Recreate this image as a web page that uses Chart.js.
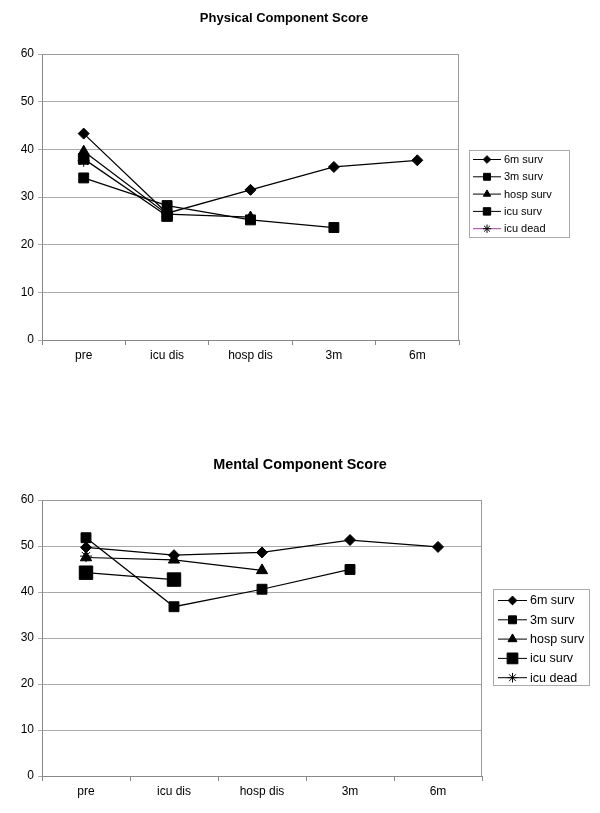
<!DOCTYPE html>
<html>
<head>
<meta charset="utf-8">
<script src="https://cdn.jsdelivr.net/npm/chart.js@4.4.0/dist/chart.umd.min.js"></script>
<style>
  body { margin: 0; background: #fff; font-family: "Liberation Sans", Arial, sans-serif; }
  .wrap { position: absolute; left: 0; width: 600px; }
  .title { position: absolute; font-weight: bold; color: #000; white-space: nowrap; transform: translate(-50%, -50%); }
</style>
</head>
<body>
<div class="wrap" style="top:0;height:400px"><canvas id="pcsChart"></canvas></div>
<div class="wrap" style="top:410px;height:403px"><canvas id="mcsChart"></canvas></div>
<div class="title" style="left:284px;top:17px;font-size:13px">Physical Component Score</div>
<div class="title" style="left:300px;top:464px;font-size:14.4px">Mental Component Score</div>
<script>
// Data
const categories = ['pre', 'icu dis', 'hosp dis', '3m', '6m'];
const seriesNames = ['6m surv', '3m surv', 'hosp surv', 'icu surv', 'icu dead'];

// Physical Component Score
const pcs6m      = [43.3, 26.6, 31.5, 36.3, 37.7];
const pcs3m      = [34.0, 28.2, 25.2, 23.6, null];
const pcsHosp    = [39.6, 26.4, 25.8, null, null];
const pcsIcuSurv = [38.0, 26.0, null, null, null];
const pcsIcuDead = [37.6, null, null, null, null];

// Mental Component Score
const mcs6m      = [49.7, 48.0, 48.6, 51.3, 49.8];
const mcs3m      = [51.8, 36.8, 40.6, 44.9, null];
const mcsHosp    = [47.5, 47.0, 44.7, null, null];
const mcsIcuSurv = [44.2, 42.7, null, null, null];
const mcsIcuDead = [47.8, null, null, null, null];

const yTicks = [0, 10, 20, 30, 40, 50, 60];

const FONT = '"Liberation Sans", Arial, sans-serif';

// draws the grey frame around the plot area
const plotFrame = {
    id: 'plotFrame',
    beforeDatasetsDraw(chart) {
        const a = chart.chartArea;
        const ctx = chart.ctx;
        ctx.save();
        ctx.strokeStyle = '#999';
        ctx.lineWidth = 1;
        ctx.beginPath();
        ctx.moveTo(a.left, a.top + 0.5);
        ctx.lineTo(a.right - 0.5, a.top + 0.5);
        ctx.lineTo(a.right - 0.5, a.bottom);
        ctx.stroke();
        ctx.restore();
    }
};

// Excel style legend: line with marker in the middle
const lineLegend = {
    id: 'lineLegend',
    afterDraw(chart, args, opts) {
        const ctx = chart.ctx;
        ctx.save();
        ctx.strokeStyle = '#aaa';
        ctx.lineWidth = 1;
        ctx.strokeRect(opts.x + 0.5, opts.y + 0.5, opts.w, opts.h);
        ctx.font = opts.fontSize + 'px ' + FONT;
        ctx.textBaseline = 'middle';
        chart.data.datasets.forEach((ds, i) => {
            const y = opts.firstY + i * opts.step;
            ctx.strokeStyle = ds.borderColor;
            ctx.lineWidth = 1;
            ctx.beginPath();
            ctx.moveTo(opts.lineX, y + 0.5);
            ctx.lineTo(opts.lineX + opts.lineW, y + 0.5);
            ctx.stroke();
            ctx.fillStyle = '#000';
            ctx.strokeStyle = '#000';
            Chart.helpers.drawPoint(ctx, {
                pointStyle: ds.pointStyle,
                radius: ds.pointRadius * opts.scale,
                rotation: 0,
                borderWidth: 1
            }, opts.lineX + opts.lineW / 2, y + 0.5);
            ctx.fillStyle = '#000';
            ctx.fillText(ds.label, opts.lineX + opts.lineW + 3, y + 1);
        });
        ctx.restore();
    }
};

function makeDataset(label, data, style, radius, color) {
    return {
        label: label,
        data: data,
        borderColor: color || '#000',
        backgroundColor: '#000',
        borderWidth: 1.25,
        pointStyle: style,
        pointRadius: radius,
        pointBackgroundColor: '#000',
        pointBorderColor: '#000',
        pointBorderWidth: 1,
        tension: 0,
        spanGaps: false
    };
}

function makeChart(id, datasets, cfg) {
    return new Chart(document.getElementById(id), {
        type: 'line',
        data: { labels: categories, datasets: datasets },
        options: {
            responsive: true,
            maintainAspectRatio: false,
            animation: false,
            layout: { padding: { left: 0, right: cfg.right, top: cfg.top, bottom: 0 } },
            scales: {
                x: {
                    offset: true,
                    grid: { offset: true, drawOnChartArea: false, drawTicks: true, tickLength: 5, color: '#888' },
                    border: { color: '#888' },
                    ticks: { color: '#000', font: { family: FONT, size: cfg.tickSize }, padding: 3 },
                    afterFit(scale) { scale.height = cfg.xHeight; }
                },
                y: {
                    min: 0,
                    max: 60,
                    afterBuildTicks(scale) { scale.ticks = yTicks.map(v => ({ value: v })); },
                    grid: { color: '#aaa', tickLength: 4, drawTicks: true },
                    border: { color: '#888' },
                    ticks: { color: '#000', font: { family: FONT, size: cfg.tickSize }, padding: 4 },
                    afterFit(scale) { scale.width = 42; }
                }
            },
            plugins: {
                legend: { display: false },
                tooltip: { enabled: false },
                title: { display: false },
                lineLegend: cfg.legend
            }
        },
        plugins: [plotFrame, lineLegend]
    });
}

makeChart('pcsChart', [
    makeDataset(seriesNames[0], pcs6m, 'rectRot', 5.5),
    makeDataset(seriesNames[1], pcs3m, 'rect', 7),
    makeDataset(seriesNames[2], pcsHosp, 'triangle', 6),
    makeDataset(seriesNames[3], pcsIcuSurv, 'rect', 7.5),
    makeDataset(seriesNames[4], pcsIcuDead, 'star', 6, '#a040a0')
], {
    right: 141,
    top: 54,
    xHeight: 60,
    tickSize: 12,
    legend: { x: 469, y: 150, w: 100, h: 87, firstY: 159, step: 17.3, lineX: 473, lineW: 28, scale: 0.7, fontSize: 11 }
});

makeChart('mcsChart', [
    makeDataset(seriesNames[0], mcs6m, 'rectRot', 5.5),
    makeDataset(seriesNames[1], mcs3m, 'rect', 7),
    makeDataset(seriesNames[2], mcsHosp, 'triangle', 6.5),
    makeDataset(seriesNames[3], mcsIcuSurv, 'rect', 9.5),
    makeDataset(seriesNames[4], mcsIcuDead, 'star', 6)
], {
    right: 118,
    top: 90,
    xHeight: 37,
    tickSize: 12,
    legend: { x: 493, y: 179, w: 96, h: 96, firstY: 190, step: 19.3, lineX: 498, lineW: 29, scale: 0.8, fontSize: 12.5 }
});
</script>
</body>
</html>
